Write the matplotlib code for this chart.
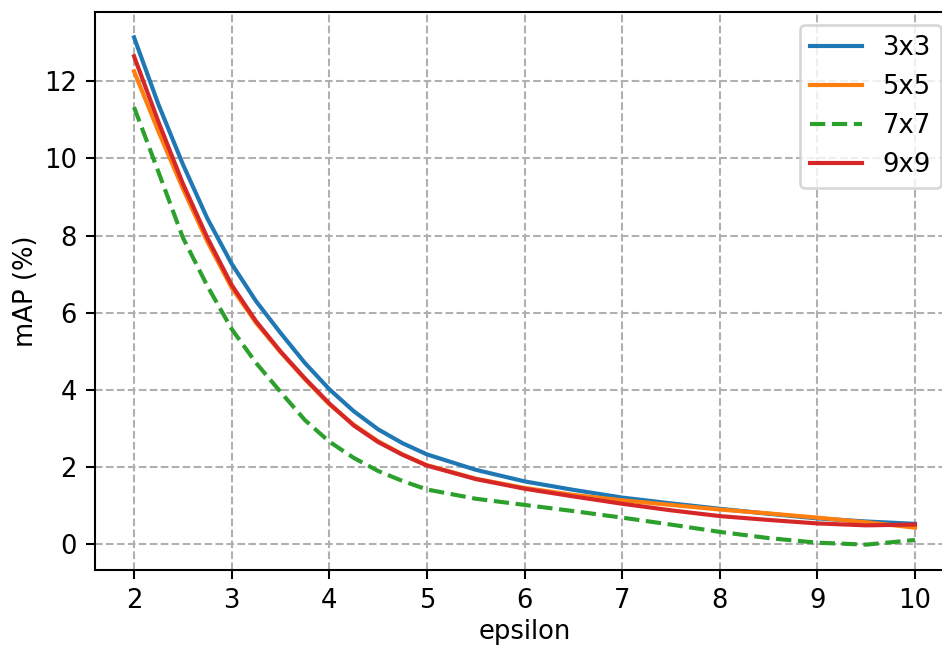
import matplotlib
matplotlib.use("Agg")
import matplotlib.pyplot as plt

# epsilon values and mAP (%) for each kernel size
eps = [2, 2.25, 2.5, 2.75, 3, 3.25, 3.5, 3.75, 4, 4.25, 4.5, 4.75, 5,
       5.5, 6, 6.5, 7, 7.5, 8, 8.5, 9, 9.5, 10]
map_3x3 = [13.14, 11.4, 9.85, 8.45, 7.27, 6.3, 5.48, 4.7, 4.02, 3.45, 2.98, 2.62, 2.33,
           1.93, 1.63, 1.41, 1.21, 1.06, 0.92, 0.79, 0.67, 0.59, 0.53]
map_5x5 = [12.26, 10.7, 9.22, 7.85, 6.65, 5.74, 4.98, 4.28, 3.63, 3.1, 2.67, 2.33, 2.05,
           1.70, 1.46, 1.28, 1.14, 1.02, 0.90, 0.80, 0.69, 0.57, 0.43]
map_7x7 = [11.33, 9.65, 7.95, 6.7, 5.58, 4.7, 3.95, 3.22, 2.66, 2.24, 1.9, 1.64, 1.42,
           1.18, 1.02, 0.86, 0.69, 0.51, 0.32, 0.16, 0.04, -0.01, 0.11]
map_9x9 = [12.65, 10.95, 9.35, 7.95, 6.72, 5.78, 5.0, 4.3, 3.65, 3.08, 2.65, 2.32, 2.04,
           1.69, 1.44, 1.24, 1.05, 0.88, 0.73, 0.63, 0.54, 0.49, 0.51]

DPI = 186
fig = plt.figure(figsize=(942 / DPI, 646 / DPI), dpi=DPI)
ax = fig.add_axes([95/942, 1 - 570/646, (954 - 95)/942, (570 - 12)/646])

ax.plot(eps, map_3x3, color="tab:blue", label="3x3", lw=1.6)
ax.plot(eps, map_5x5, color="tab:orange", label="5x5", lw=1.6)
ax.plot(eps, map_7x7, color="tab:green", linestyle="--", label="7x7", lw=1.6)
ax.plot(eps, map_9x9, color="tab:red", label="9x9", lw=1.6)

ax.grid(True, linestyle="--")
ax.set_xlabel("epsilon", labelpad=2)
ax.set_ylabel("mAP (%)", labelpad=2)
ax.legend(loc="upper right")

fig.savefig("out.png", dpi=DPI)
